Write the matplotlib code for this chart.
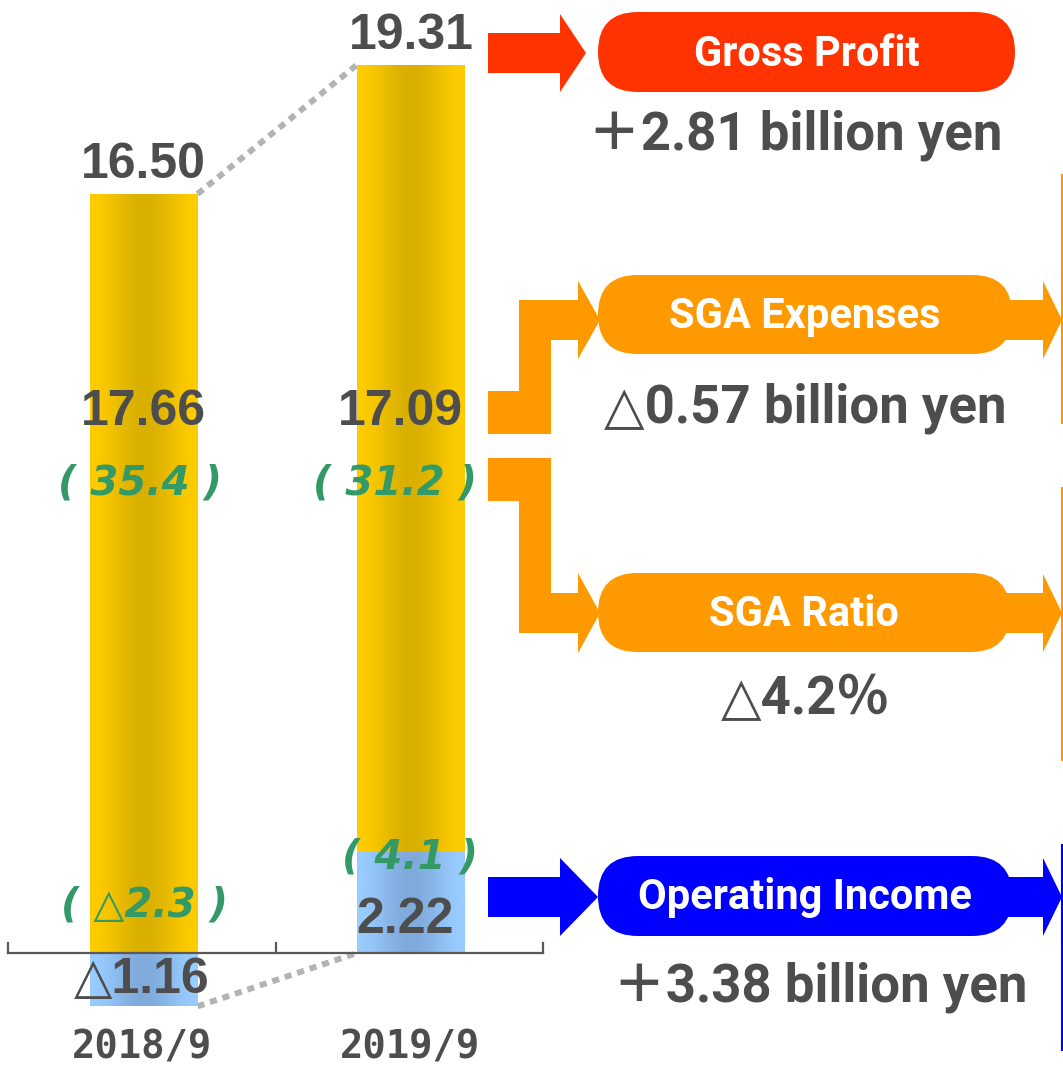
import numpy as np
import matplotlib
matplotlib.use("Agg")
import matplotlib.pyplot as plt
from matplotlib.patches import FancyBboxPatch, Polygon

# data (billion yen / %)
periods = ["2018/9", "2019/9"]
gross_profit = [16.50, 19.31]
sga_expenses = [17.66, 17.09]
sga_ratio = [35.4, 31.2]
op_income = [-1.16, 2.22]
op_margin = [-2.3, 4.1]
gp_label = ["16.50", "19.31"]
sga_label = ["17.66", "17.09"]
ratio_label = ["( 35.4 )", "( 31.2 )"]
oi_label = ["△1.16", "2.22"]
margin_label = ["( △2.3 )", "( 4.1 )"]
change_text = ["＋2.81 billion yen", "△0.57 billion yen", "△4.2％", "＋3.38 billion yen"]
box_titles = ["Gross Profit", "SGA Expenses", "SGA Ratio", "Operating Income"]

W, H = 1063, 1067
GRAY = "#4d4d4d"
GREEN = "#339966"
RED = "#ff3300"
ORANGE = "#ff9900"
BLUE = "#0000ff"

fig = plt.figure(figsize=(W / 100, H / 100), dpi=100)

# bar axes: x in pixels, y in billion yen
base_px, px_per_unit = 953, 46.0
axb = fig.add_axes([0, 0, 1, 1])
axb.set_xlim(0, W)
axb.set_ylim((base_px - H) / px_per_unit, base_px / px_per_unit)
axb.axis("off")

x_pos = [143.5, 411]
bar_w = 108


def gradient_fill(ax, bar, edge, center):
    e = np.array(matplotlib.colors.to_rgb(edge))
    c = np.array(matplotlib.colors.to_rgb(center))
    t = np.linspace(0, 1, 256)
    k = (np.cos((t - 0.5) * 2 * np.pi) + 1) / 2
    img = e[None, :] * (1 - k[:, None]) + c[None, :] * k[:, None]
    x0, y0 = bar.get_x(), bar.get_y()
    x1, y1 = x0 + bar.get_width(), y0 + bar.get_height()
    im = ax.imshow(img[None, :, :], extent=(x0, x1, y0, y1), aspect="auto", zorder=2)
    im.set_clip_path(bar)


gold_bottom = [max(v, 0) for v in op_income]
gold_height = [g - b for g, b in zip(gross_profit, gold_bottom)]
blue_bottom = [min(v, 0) for v in op_income]
blue_height = [abs(v) for v in op_income]

gold = axb.bar(x_pos, gold_height, bottom=gold_bottom, width=bar_w, color="none", zorder=2)
blue = axb.bar(x_pos, blue_height, bottom=blue_bottom, width=bar_w, color="none", zorder=2)
for b in gold:
    gradient_fill(axb, b, "#ffcc00", "#d9b000")
for b in blue:
    gradient_fill(axb, b, "#99ccff", "#80aadc")

# dotted connectors
axb.plot([x_pos[0] + bar_w / 2, x_pos[1] - bar_w / 2], [gross_profit[0], gross_profit[1]],
         color="#b3b3b3", lw=4.3, ls=(0, (1.2, 1)), zorder=1)
axb.plot([x_pos[0] + bar_w / 2, x_pos[1] - bar_w / 2], [op_income[0], 0],
         color="#b3b3b3", lw=4.3, ls=(0, (1.2, 1)), zorder=1)

# baseline with ticks
axb.plot([8, 543], [0, 0], color="#595959", lw=1.6, zorder=3)
for tx in [8, 276, 543]:
    axb.plot([tx, tx], [0, 10 / px_per_unit], color="#595959", lw=1.6, zorder=3)

num_font = ["Liberation Sans", "DejaVu Sans", "Noto Sans CJK JP"]
green_font = ["DejaVu Sans"]
for i in range(2):
    axb.annotate(gp_label[i], (x_pos[i], gross_profit[i]), xytext=(0, 6),
                 textcoords="offset pixels", ha="center", va="bottom",
                 fontsize=36, fontweight="bold", color=GRAY, family=num_font, zorder=5)

# overlay axes in pixel coordinates
ax = fig.add_axes([0, 0, 1, 1])
ax.set_xlim(0, W)
ax.set_ylim(H, 0)
ax.axis("off")

green_kw = dict(ha="center", va="center", fontsize=29, fontweight="bold",
                fontstyle="oblique", color=GREEN, family=green_font)
for i in range(2):
    ax.text(x_pos[i] - 11 * i, 412, sga_label[i], ha="center", va="center",
            fontsize=36, fontweight="bold", color=GRAY, family=num_font)
    ax.text(x_pos[i] - 4 - 12 * i, 483, ratio_label[i], **green_kw)

ax.text(x_pos[0] + 1, 905, margin_label[0], **green_kw)
ax.text(x_pos[1] - 1, 858, margin_label[1], **green_kw)
ax.text(x_pos[0] - 2, 980, oi_label[0], ha="center", va="center",
        fontsize=36, fontweight="bold", color=GRAY, family=num_font)
ax.text(x_pos[1] - 6, 920, oi_label[1], ha="center", va="center",
        fontsize=36, fontweight="bold", color=GRAY, family=num_font)

for i in range(2):
    ax.text(x_pos[i] - 1, 1048, periods[i], ha="center", va="center",
            fontsize=28, fontweight="bold", color=GRAY, family=["DejaVu Sans Mono"])


# right-hand flow diagram
def arrow(points, color):
    ax.add_patch(Polygon(points, closed=True, color=color, lw=0))


def pill(x0, y0, x1, y1, color, title):
    ax.add_patch(FancyBboxPatch((x0, y0), x1 - x0, y1 - y0,
                                boxstyle="round,pad=0,rounding_size=%g" % ((y1 - y0) / 2),
                                color=color, lw=0))
    ax.text((x0 + x1) / 2, (y0 + y1) / 2 + 2, title, ha="center", va="center",
            fontsize=30, fontweight="bold", color="white", family=["Roboto", "DejaVu Sans"])


def right_arrow(xs, yc, color):
    # straight arrow: stem from xs[0] to xs[1], head to xs[2]
    arrow([(xs[0], yc - 20), (xs[1], yc - 20), (xs[1], yc - 39), (xs[2], yc),
           (xs[1], yc + 39), (xs[1], yc + 20), (xs[0], yc + 20)], color)


# gross profit
right_arrow((488, 560, 586), 53, RED)
pill(598, 12, 1015, 92, RED, box_titles[0])

# SGA expenses elbow
arrow([(488, 391), (519, 391), (519, 300), (578, 300), (578, 281), (600, 320),
       (578, 359), (578, 340), (551, 340), (551, 434), (488, 434)], ORANGE)
pill(598, 275, 1012, 354, ORANGE, box_titles[1])
right_arrow((1000, 1043, 1062), 320, ORANGE)

# SGA ratio elbow
arrow([(488, 458), (551, 458), (551, 593), (578, 593), (578, 573), (600, 613),
       (578, 653), (578, 633), (519, 633), (519, 501), (488, 501)], ORANGE)
pill(598, 573, 1010, 652, ORANGE, box_titles[2])
right_arrow((1000, 1043, 1062), 613, ORANGE)

# operating income
right_arrow((488, 560, 598), 897, BLUE)
pill(598, 856, 1012, 936, BLUE, box_titles[3])
right_arrow((1000, 1043, 1062), 897, BLUE)

# thin vertical rules at the right edge
ax.plot([1062, 1062], [175, 423], color=ORANGE, lw=1.5)
ax.plot([1062, 1062], [488, 760], color=ORANGE, lw=1.5)
ax.plot([1062, 1062], [845, 1050], color=BLUE, lw=1.5)

chg_font = ["Roboto", "DejaVu Sans", "Noto Sans CJK JP"]
for txt, (cx, cy) in zip(change_text, [(795, 135), (805, 408), (805, 700), (820, 987)]):
    ax.text(cx, cy, txt, ha="center", va="center", fontsize=38, fontweight="bold",
            color=GRAY, family=chg_font)

fig.savefig("out.png", dpi=100, facecolor="white")
